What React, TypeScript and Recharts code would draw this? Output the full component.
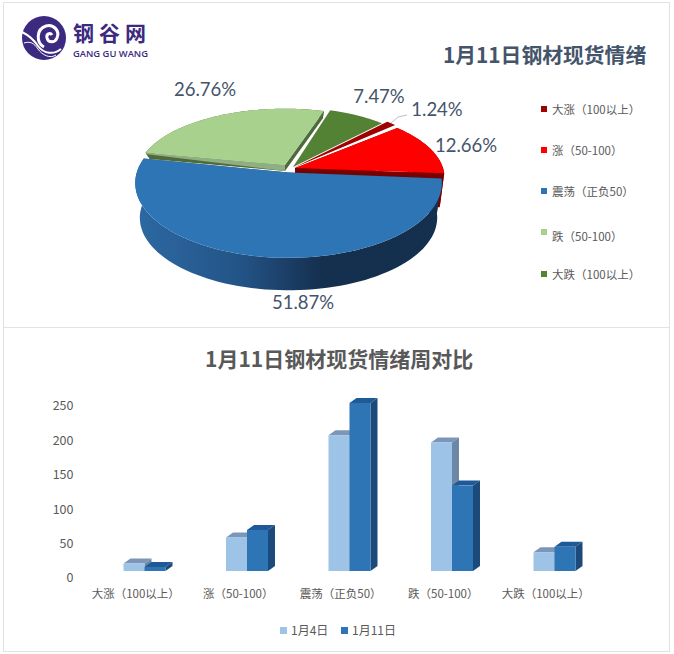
import { Bar, BarChart, Legend, Pie, PieChart, XAxis, YAxis } from "recharts"

// pie: share of each band, in %
const categories = ["大涨（100以上）", "涨（50-100）", "震荡（正负50）", "跌（50-100）", "大跌（100以上）"]
const shareValues = [1.24, 12.66, 51.87, 26.76, 7.47]

// bars: counts per week
const seriesNames = ["1月4日", "1月11日"]
const jan4Values = [11, 50, 202, 191, 28]
const jan11Values = [6, 61, 250, 127, 36]
const yTicks = [0, 50, 100, 150, 200, 250]

// styling of the slices, same order as categories
const sliceFills = ["#a00000", "#ff0000", "#2e75b6", "#a9d18e", "#548235"]
const wallFills = ["#7a0000", "#7a0000", "url(#pieWall)", "#4f6a3a", "#3f5f28"]
const sliceShift = [[0, -4], [2, -4], [-4.5, 0.5], [-8, -7], [0, -5]]
const sliceScale = [0.98, 0.98, 1.005, 0.967, 0.925]
const sliceTilt = [0.483, 0.45, 0.483, 0.44, 0.483]
const wallDepth = [0, 34, 35, 6, 0]
const labelAt = [[437, 109], [466, 145], [303, 302], [205, 89], [379, 96]]
const pieLegendY = [109, 150, 191, 236, 274]
const pieMarkerY = [109, 150, 191, 232, 274]

const PERSP = 0.141
const WALL_SHRINK = 0.97
const CJK = '"Noto Sans CJK SC", sans-serif'

const pieData = categories.map((name, i) => ({ name, value: shareValues[i] }))
const barData = categories.map((name, i) => ({ name, jan4: jan4Values[i], jan11: jan11Values[i] }))

// flat circle -> tilted plane with a bit of perspective
function rim(angle: number, r: number, tilt: number, depth = 0) {
  const rad = (angle * Math.PI) / 180
  const x = Math.cos(rad)
  const z = -Math.sin(rad)
  const k = (1 / (1 - PERSP * z)) * (depth ? WALL_SHRINK : 1)
  return [r * x * k, r * tilt * z * k + depth]
}

const toPath = (pts: number[][]) => "M" + pts.map((p) => p[0].toFixed(1) + " " + p[1].toFixed(1)).join("L") + "Z"

function PieSlice(props: any) {
  const i = categories.indexOf(props.name)
  const ox = props.cx + sliceShift[i][0]
  const oy = props.cy + sliceShift[i][1]
  const r = props.outerRadius * sliceScale[i]
  const tilt = sliceTilt[i]
  const depth = wallDepth[i]
  const steps = 80
  const angles: number[] = []
  for (let s = 0; s <= steps; s++) angles.push(props.startAngle + ((props.endAngle - props.startAngle) * s) / steps)
  const top = angles.map((a) => rim(a, r, tilt))
  const bottom = angles.map((a) => rim(a, r, tilt, depth))
  const first = top[0]
  const last = top[steps]
  return (
    <g transform={`translate(${ox} ${oy})`}>
      {depth > 0 && (
        <>
          <path d={toPath([...top, ...[...bottom].reverse()])} fill={wallFills[i]} />
          <path d={toPath([[0, 0], first, bottom[0], [0, depth]])} fill={wallFills[i]} />
          <path d={toPath([[0, 0], last, bottom[steps], [0, depth]])} fill={wallFills[i]} />
        </>
      )}
      {i === 3 && <path d={toPath([[0, 0], first, [first[0] + 1.5, first[1] + 1.5], [8, 7], [0, 6]])} fill="#8fae82" />}
      <path d={toPath([[0, 0], ...top])} fill={sliceFills[i]} />
    </g>
  )
}

function pieLabel(props: any) {
  const i = categories.indexOf(props.name)
  return (
    <g key={props.name}>
      {i === 0 && <polyline points="391,123 398,117 407,115" fill="none" stroke="#b8c0c8" strokeWidth={1} />}
      <text x={labelAt[i][0]} y={labelAt[i][1]} textAnchor="middle" dominantBaseline="central" fontFamily="Lato" fontSize={18.5} fill="#44546a">
        {shareValues[i].toFixed(2)}%
      </text>
    </g>
  )
}

function PieLegend({ payload }: any) {
  return (
    <>
      {(payload || []).map((item: any) => {
        const i = categories.indexOf(item.value)
        return (
          <div key={item.value}>
            <div style={{ position: "absolute", left: 541, top: pieMarkerY[i] - 3, width: 6, height: 6, background: sliceFills[i] }} />
            <div style={{ position: "absolute", left: 552, top: pieLegendY[i] - 8, lineHeight: "16px", fontSize: 11.5, color: "#595959", whiteSpace: "nowrap" }}>
              {item.value}
            </div>
          </div>
        )
      })}
    </>
  )
}

function BarLegend({ payload }: any) {
  const left = [280, 341]
  return (
    <>
      {(payload || []).map((item: any) => {
        const i = seriesNames.indexOf(item.value)
        return (
          <div key={item.value}>
            <div style={{ position: "absolute", left: left[i], top: 300, width: 7, height: 7, background: item.color }} />
            <div style={{ position: "absolute", left: left[i] + 11, top: 295, lineHeight: "16px", fontSize: 12, color: "#595959", whiteSpace: "nowrap" }}>
              {item.value}
            </div>
          </div>
        )
      })}
    </>
  )
}

// 3d column: front, lid and right side
function Column(props: any) {
  const { x, y, width, height, fill, lid, side } = props
  const h = height * 0.977
  const bottom = y + height - 6
  const t = bottom - h
  const dx = 7
  const dy = 5
  const r = x + width
  return (
    <g>
      <path d={toPath([[x, t], [x + dx, t - dy], [r + dx, t - dy], [r, t]])} fill={lid} />
      <path d={toPath([[r, t], [r + dx, t - dy], [r + dx, bottom - dy], [r, bottom]])} fill={side} />
      <rect x={x} y={t} width={width} height={h} fill={fill} />
    </g>
  )
}

function CategoryTick({ x, y, payload }: any) {
  return (
    <text x={x - 9} y={y + 8} textAnchor="middle" dominantBaseline="central" fontSize={11.5} fill="#595959">
      {payload.value}
    </text>
  )
}

function Logo() {
  return (
    <svg width={160} height={70} style={{ position: "absolute", left: 0, top: 0 }}>
      <circle cx={44} cy={38} r={22} fill="#3b2a80" />
      <path d="M22 32 C30 36 34 40 38 46 C44 54 54 55 61 49" fill="none" stroke="#fff" strokeWidth={2} />
      <path d="M24 43 C30 41 34 43 38 49 C42 55 50 59 56 55" fill="none" stroke="#fff" strokeWidth={1} />
      <path d="M44 47 C36 43 36 29 46 26 C54 24 60 31 57 38 C55 43 48 43 47 38 C46 34 50 32 52 35" fill="none" stroke="#fff" strokeWidth={3} />
      <text x={73} y={41} fontFamily={CJK} fontWeight={700} fontSize={21} fill="#3b2a80" letterSpacing={5}>钢谷网</text>
      <text x={73} y={57} fontFamily="'Open Sans'" fontWeight={600} fontSize={9.4} fill="#3b2a80">GANG GU WANG</text>
    </svg>
  )
}

export default function App() {
  return (
    <div style={{ position: "absolute", left: 0, top: 0, width: 674, height: 654, background: "#fff", fontFamily: CJK, overflow: "hidden" }}>
      <div style={{ position: "absolute", left: 3, top: 2, width: 665, height: 648, border: "1px solid #e2e2e2" }} />
      <div style={{ position: "absolute", left: 3, top: 327, width: 666, height: 1, background: "#e2e2e2" }} />

      <div style={{ position: "absolute", left: 0, top: 0 }}>
        <PieChart width={674} height={327} margin={{ top: 0, right: 0, bottom: 0, left: 0 }}>
          <defs>
            <linearGradient id="pieWall" gradientUnits="userSpaceOnUse" x1={-155} y1={0} x2={150} y2={0}>
              <stop offset="0" stopColor="#2d69a3" />
              <stop offset="0.35" stopColor="#235487" />
              <stop offset="0.62" stopColor="#152f4e" />
              <stop offset="1" stopColor="#14304e" />
            </linearGradient>
          </defs>
          <Pie
            data={pieData}
            dataKey="value"
            nameKey="name"
            cx={293}
            cy={172}
            outerRadius={151}
            startAngle={45.5}
            endAngle={-314.5}
            stroke="none"
            isAnimationActive={false}
            shape={PieSlice}
            label={pieLabel}
            labelLine={false}
          />
          <Legend verticalAlign="middle" layout="horizontal" wrapperStyle={{ left: 0, top: 0, width: 674, height: 0 }} content={PieLegend} />
        </PieChart>
      </div>
      <Logo />
      <div style={{ position: "absolute", left: 443, top: 40, lineHeight: "28px", fontSize: 20.8, fontWeight: 700, color: "#44546a", whiteSpace: "nowrap" }}>
        1月11日钢材现货情绪
      </div>

      <div style={{ position: "absolute", left: 0, top: 327 }}>
        <BarChart width={674} height={327} data={barData} margin={{ top: 78, right: 68, bottom: 47, left: 43.5 }} barCategoryGap={30} barGap={0}>
          <XAxis dataKey="name" axisLine={false} tickLine={false} height={30} interval={0} tick={CategoryTick} />
          <YAxis ticks={yTicks} domain={[0, 250]} width={50} axisLine={false} tickLine={false} tick={{ fontSize: 12.5, fill: "#595959", dx: -14, dy: 1 }} tickMargin={0} />
          <Bar dataKey="jan4" name={seriesNames[0]} fill="#9dc3e6" isAnimationActive={false} shape={(p: any) => <Column {...p} lid="#7b96b8" side="#6d87a6" />} />
          <Bar dataKey="jan11" name={seriesNames[1]} fill="#2e75b6" isAnimationActive={false} shape={(p: any) => <Column {...p} lid="#1f5a98" side="#1c4a7a" />} />
          <Legend verticalAlign="middle" layout="horizontal" wrapperStyle={{ left: 0, top: 0, width: 674, height: 0 }} content={BarLegend} />
        </BarChart>
      </div>
      <div style={{ position: "absolute", left: 205, top: 344, lineHeight: "28px", fontSize: 21, fontWeight: 700, color: "#595959", whiteSpace: "nowrap" }}>
        1月11日钢材现货情绪周对比
      </div>
    </div>
  )
}
